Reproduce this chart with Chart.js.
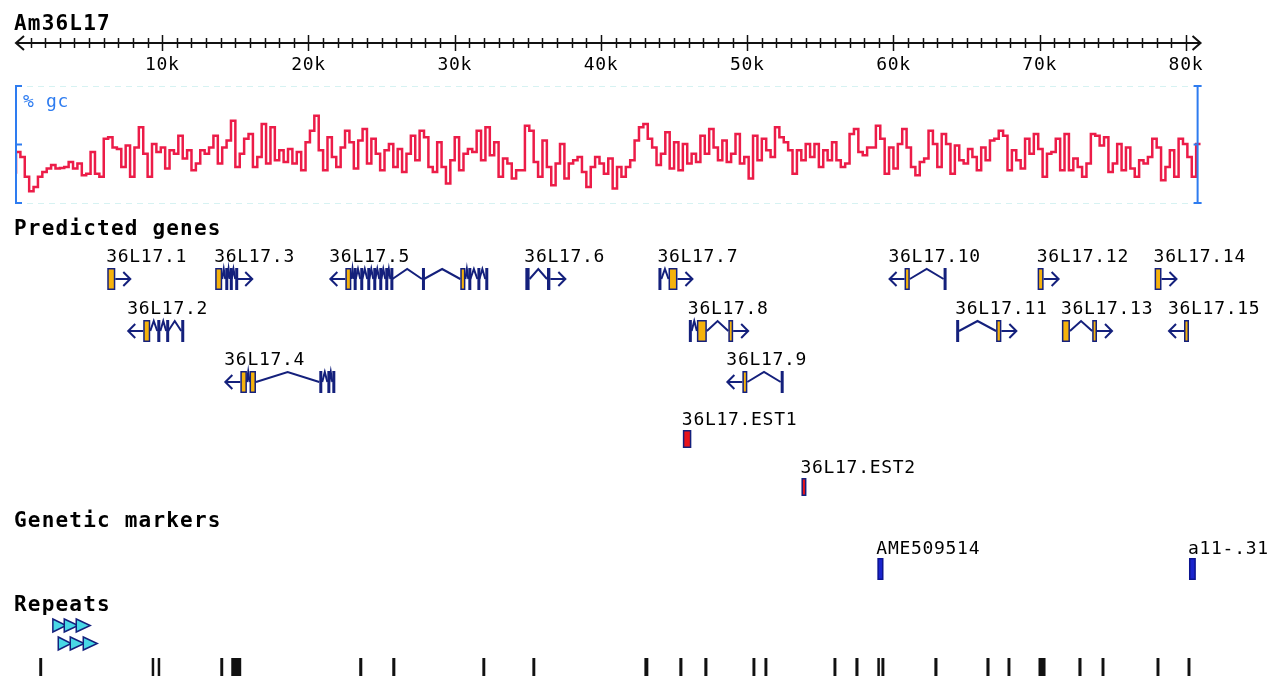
<!DOCTYPE html>
<html>
<head>
<meta charset="utf-8">
<script src="https://cdn.jsdelivr.net/npm/chart.js@4.4.1/dist/chart.umd.min.js"></script>
<style>
  html, body { margin: 0; padding: 0; background: #fff; }
  canvas { display: block; }
</style>
</head>
<body>
<canvas id="browser" width="1272" height="676"></canvas>
<script>
// ---- data (bp coordinates) ----
const seqName = 'Am36L17';
const seqLength = 80800;
const rulerEnd = 81000;
const rulerTicks = [10000, 20000, 30000, 40000, 50000, 60000, 70000, 80000];
const rulerLabels = ['10k', '20k', '30k', '40k', '50k', '60k', '70k', '80k'];

// % gc in 300 bp windows
const gcWindow = 300;
const gcValues = [
  30, 37.4, 35.7, 29, 24, 25.5, 29, 30.6, 31.8, 33, 31.8, 32, 32.3, 34, 31.8, 33.5, 29.5, 30, 37.4, 30,
  29, 42, 42.5, 39, 38.5, 32.3, 39.7, 29, 39, 45.9, 36.8, 29, 40.2, 37.4, 39, 31.8, 38, 36.8, 43, 35.2,
  38, 31.2, 33.5, 38, 36.8, 39, 43, 33.5, 39, 41.4, 48.1, 32.3, 36.8, 42, 43.6, 32.3, 35.7, 47, 33.5, 45.9,
  34.6, 38, 34, 38.5, 33.5, 37.4, 31.2, 40.8, 44.7, 49.8, 38, 31.2, 42.5, 35.7, 32.3, 39, 44.7, 40.8, 31.8, 41.4,
  45.3, 33.5, 42, 36.8, 31.2, 38, 40.2, 32.3, 38.5, 30.6, 36.8, 43,
  34.6, 44.7, 42.5, 32.3, 30.6, 40.8, 32.3, 26.7, 34.6, 42.5, 31.2, 36.8, 38.5, 37.4, 44.7, 34.6, 45.9, 36.3, 40.8, 29,
  35.2, 33.5, 28.4, 31.2, 31.2, 46.4, 44.7, 34, 29, 41.4, 32.3, 26.1, 33.5, 40.2, 28.4, 33.5, 34.6, 35.7, 30.6, 25.5,
  32.3, 35.7, 33.5, 30, 35.2, 25, 32.3, 29, 32.3, 34.6, 41.4, 45.9, 47, 42, 39, 33, 36.8, 44.2, 31.8, 40.8,
  31.2, 40.2, 33.5, 36.8, 34, 43, 36.8, 45.3, 39, 34.6, 41.4, 34, 36.8, 43.6, 33.5, 35.7, 28.4, 43, 34.6, 42,
  38, 35.7, 45.9, 42.5, 40.8, 38, 30, 38, 34.6, 40.2, 35.7,
  40.2, 32.3, 38, 34.6, 40.8, 34.6, 32.3, 33.5, 43.6, 45.3, 37.4, 36.3, 39, 39, 46.4, 42, 30, 39, 31.8, 40.2,
  45.3, 39, 32.3, 29.5, 34, 35.2, 44.7, 40.2, 32.3, 43.6, 40.2, 30, 39.7, 34.6, 33.5, 38.5, 35.7, 31.2, 39, 34.6,
  41.4, 42, 44.7, 43, 31.2, 38, 34.6, 31.8, 42, 36.8, 43.6, 38.5, 29, 36.8, 37.4, 42, 31.2, 43.6, 31.2, 35.2,
  32.3, 29, 33.5, 43.6, 43, 39.7, 42.5, 30.6, 33.5, 40.2, 31.2, 39, 31.8, 29, 34.6, 33.5, 35.7, 42, 39, 27.8,
  32.3, 38, 29, 42, 40.2, 35.7, 29, 40.2
];
const gcMinValue = 20;
const gcMaxValue = 60;

// predicted genes
const geneNames = ['36L17.1', '36L17.2', '36L17.3', '36L17.4', '36L17.5', '36L17.6', '36L17.7', '36L17.8',
  '36L17.9', '36L17.10', '36L17.11', '36L17.12', '36L17.13', '36L17.14', '36L17.15'];
const geneStrands = [1, -1, 1, -1, -1, 1, 1, 1, -1, -1, 1, 1, 1, 1, -1];
const geneRows = [0, 1, 0, 2, 0, 0, 0, 1, 2, 0, 1, 0, 1, 0, 1];
const geneExons = [
  [[6240, 6790]],
  [[8700, 9180], [9660, 9870], [10270, 10410], [11300, 11440]],
  [[13620, 14100], [14310, 14450], [14620, 14750], [14990, 15130]],
  [[15340, 15790], [15970, 16410], [20740, 20940], [21290, 21420], [21630, 21770]],
  [[22520, 22930], [23090, 23230], [23540, 23680], [24020, 24160], [24430, 24570], [24840, 24980],
   [25250, 25390], [25600, 25740], [27760, 27900], [30380, 30730], [30930, 31070], [31550, 31690], [32090, 32230]],
  [[34830, 35120], [36310, 36540]],
  [[43930, 44130], [44620, 45230]],
  [[46010, 46200], [46560, 47240], [48710, 49040]],
  [[49670, 50010], [52290, 52410]],
  [[60760, 61120], [63430, 63600]],
  [[64290, 64480], [67020, 67380]],
  [[69860, 70270]],
  [[71520, 72070], [73590, 73920]],
  [[77860, 78330]],
  [[79870, 80210]]
];

// ESTs
const estNames = ['36L17.EST1', '36L17.EST2'];
const estStarts = [45600, 53710];
const estEnds = [46180, 54050];

// genetic markers
const markerNames = ['AME509514', 'a11-.31'];
const markerStarts = [58900, 80210];
const markerEnds = [59320, 80680];

// repeats
const repeatArrowRows = [0, 0, 0, 1, 1, 1];
const repeatArrowStarts = [2520, 3300, 4120, 2890, 3710, 4600];
const repeatArrowEnds = [3430, 4255, 5075, 3775, 4665, 5555];
const repeatStarts = [1590, 9280, 9690, 13970, 14720, 23470, 25730, 31890, 35310, 42970, 45360, 47070, 50360,
  51180, 55900, 57400, 58900, 59180, 62800, 66360, 67800, 69920, 72650, 74230, 77990, 80110];
const repeatEnds = [1790, 9450, 9860, 14170, 15400, 23680, 25940, 32090, 35510, 43240, 45570, 47280, 50560,
  51380, 56100, 57610, 59040, 59380, 63010, 66570, 68000, 70400, 72860, 74430, 78190, 80310];

// ---- look ----
const NAVY = '#14207c';
const YELLOW = '#f5b20c';
const GC_RED = '#ec1c48';
const GC_BLUE = '#2e7cf0';
const EST_RED = '#e8141c';
const MARKER_BLUE = '#1a24cc';
const CYAN = '#48d8e6';
const HEAD_FONT = "bold 21px 'DejaVu Sans Mono'";
const LABEL_FONT = "18px 'DejaVu Sans Mono'";

const gcTopPx = 86, gcBottomPx = 203, canvasH = 676;
const gcPerPx = (gcMaxValue - gcMinValue) / (gcBottomPx - gcTopPx);
const gcAxisMax = gcMaxValue + gcTopPx * gcPerPx;
const gcAxisMin = gcAxisMax - canvasH * gcPerPx;

const geneRowTop = [268, 320, 371];
const geneH = 22;
const estTop = [430, 478];
const estH = 18;
const markerTop = 558, markerH = 22;
const arrowRowTop = [619, 637], arrowH = 13;
const repeatTop = 658;

function heading(ctx, text, x, y) {
  ctx.font = HEAD_FONT;
  ctx.letterSpacing = '1.2px';
  ctx.fillStyle = '#000';
  ctx.fillText(text, x, y);
  ctx.letterSpacing = '0px';
}

function label(ctx, text, x, y, color) {
  ctx.font = LABEL_FONT;
  ctx.letterSpacing = '0.7px';
  ctx.fillStyle = color || '#000';
  ctx.fillText(text, x, y);
  ctx.letterSpacing = '0px';
}

function box(ctx, l, r, top, h, fill, edge) {
  const w = Math.max(r - l, 3);
  ctx.fillStyle = edge;
  ctx.fillRect(l, top, w, h);
  if (w > 4.5) {
    ctx.fillStyle = fill;
    ctx.fillRect(l + 1.5, top + 1.5, w - 3, h - 3);
  }
}

function drawGene(ctx, xs, name, strand, exons, top) {
  const mid = top + geneH / 2;
  const px = exons.map(([s, e]) => [xs.getPixelForValue(s), xs.getPixelForValue(e)]);
  ctx.strokeStyle = NAVY;
  ctx.lineWidth = 2;
  for (let i = 0; i < px.length - 1; i++) {
    const a = px[i][1], b = px[i + 1][0];
    ctx.beginPath();
    ctx.moveTo(a, mid);
    ctx.lineTo((a + b) / 2, top + 1);
    ctx.lineTo(b, mid);
    ctx.stroke();
  }
  px.forEach(([l, r]) => box(ctx, l, r, top, geneH, YELLOW, NAVY));
  const arrowLen = 15;
  const base = strand > 0 ? px[px.length - 1][1] : px[0][0];
  const tip = base + strand * arrowLen;
  ctx.beginPath();
  ctx.moveTo(base, mid);
  ctx.lineTo(tip, mid);
  ctx.moveTo(tip - strand * 7, mid - 7);
  ctx.lineTo(tip, mid);
  ctx.lineTo(tip - strand * 7, mid + 7);
  ctx.stroke();
  const left = strand > 0 ? px[0][0] : tip;
  label(ctx, name, left - 1, top - 6);
}

const browserGlyphs = {
  id: 'browserGlyphs',
  beforeDraw(chart) {
    const ctx = chart.ctx;
    ctx.save();
    ctx.fillStyle = '#fff';
    ctx.fillRect(0, 0, chart.width, chart.height);
    // faint gc grid
    const xs = chart.scales.x, ys = chart.scales.y;
    ctx.strokeStyle = '#d6f2f2';
    ctx.lineWidth = 1;
    ctx.setLineDash([6, 5]);
    [gcMaxValue, gcMinValue].forEach(v => {
      const y = Math.round(ys.getPixelForValue(v)) + 0.5;
      ctx.beginPath();
      ctx.moveTo(xs.getPixelForValue(0), y);
      ctx.lineTo(xs.getPixelForValue(seqLength), y);
      ctx.stroke();
    });
    ctx.restore();
  },
  afterDatasetsDraw(chart) {
    const ctx = chart.ctx;
    const xs = chart.scales.x, ys = chart.scales.y;
    ctx.save();
    ctx.textBaseline = 'alphabetic';

    // ruler
    heading(ctx, seqName, 14, 30);
    const ry = 43;
    const x0 = xs.getPixelForValue(0), x1 = xs.getPixelForValue(rulerEnd);
    ctx.strokeStyle = '#111';
    ctx.lineWidth = 2;
    ctx.beginPath();
    ctx.moveTo(x0, ry); ctx.lineTo(x1, ry);
    ctx.moveTo(x0 + 8, ry - 7); ctx.lineTo(x0, ry); ctx.lineTo(x0 + 8, ry + 7);
    ctx.moveTo(x1 - 8, ry - 7); ctx.lineTo(x1, ry); ctx.lineTo(x1 - 8, ry + 7);
    ctx.stroke();
    ctx.lineWidth = 1.5;
    for (let bp = 1000; bp < rulerEnd - 300; bp += 1000) {
      const tx = Math.round(xs.getPixelForValue(bp)) + 0.5;
      const major = rulerTicks.includes(bp);
      ctx.beginPath();
      ctx.moveTo(tx, ry - (major ? 8 : 5));
      ctx.lineTo(tx, ry + (major ? 8 : 5));
      ctx.stroke();
    }
    ctx.textAlign = 'center';
    rulerTicks.forEach((bp, i) => label(ctx, rulerLabels[i], xs.getPixelForValue(bp), 70));
    ctx.textAlign = 'left';

    // gc brackets
    const yTop = ys.getPixelForValue(gcMaxValue);
    const yMid = ys.getPixelForValue((gcMaxValue + gcMinValue) / 2);
    const yBot = ys.getPixelForValue(gcMinValue);
    const bl = xs.getPixelForValue(0), br = xs.getPixelForValue(seqLength);
    ctx.strokeStyle = GC_BLUE;
    ctx.lineWidth = 2;
    ctx.beginPath();
    ctx.moveTo(bl + 6, yTop); ctx.lineTo(bl, yTop); ctx.lineTo(bl, yBot); ctx.lineTo(bl + 6, yBot);
    ctx.moveTo(bl, yMid); ctx.lineTo(bl + 6, yMid);
    ctx.moveTo(br - 4, yTop); ctx.lineTo(br + 4, yTop);
    ctx.moveTo(br, yTop); ctx.lineTo(br, yBot);
    ctx.moveTo(br - 4, yBot); ctx.lineTo(br + 4, yBot);
    ctx.moveTo(br - 4, yMid); ctx.lineTo(br, yMid);
    ctx.stroke();
    label(ctx, '% gc', 23, 107, GC_BLUE);

    // predicted genes
    heading(ctx, 'Predicted genes', 14, 235);
    geneNames.forEach((name, i) =>
      drawGene(ctx, xs, name, geneStrands[i], geneExons[i], geneRowTop[geneRows[i]]));

    estNames.forEach((name, i) => {
      const l = xs.getPixelForValue(estStarts[i]), r = xs.getPixelForValue(estEnds[i]);
      box(ctx, l, r, estTop[i], estH, EST_RED, NAVY);
      label(ctx, name, l - 1, estTop[i] - 5);
    });

    // genetic markers
    heading(ctx, 'Genetic markers', 14, 527);
    markerNames.forEach((name, i) => {
      const l = xs.getPixelForValue(markerStarts[i]), r = xs.getPixelForValue(markerEnds[i]);
      box(ctx, l, r, markerTop, markerH, MARKER_BLUE, '#0c1490');
      label(ctx, name, l - 1, markerTop - 4);
    });

    // repeats
    heading(ctx, 'Repeats', 14, 611);
    ctx.lineWidth = 1.5;
    ctx.strokeStyle = NAVY;
    repeatArrowStarts.forEach((s, i) => {
      const l = xs.getPixelForValue(s), r = xs.getPixelForValue(repeatArrowEnds[i]);
      const t = arrowRowTop[repeatArrowRows[i]];
      ctx.beginPath();
      ctx.moveTo(l, t); ctx.lineTo(r, t + arrowH / 2); ctx.lineTo(l, t + arrowH); ctx.closePath();
      ctx.fillStyle = CYAN;
      ctx.fill();
      ctx.stroke();
    });
    ctx.fillStyle = '#111';
    repeatStarts.forEach((s, i) => {
      const l = xs.getPixelForValue(s), r = xs.getPixelForValue(repeatEnds[i]);
      ctx.fillRect(l, repeatTop, Math.max(r - l, 2.5), chart.height - repeatTop);
    });
    ctx.restore();
  }
};

new Chart(document.getElementById('browser'), {
  type: 'line',
  data: {
    datasets: [{
      label: '% gc',
      data: gcValues.map((v, i) => ({ x: i * gcWindow, y: v })),
      borderColor: GC_RED,
      borderWidth: 2.5,
      stepped: 'after',
      pointRadius: 0,
      fill: false
    }]
  },
  options: {
    responsive: false,
    animation: false,
    devicePixelRatio: 1,
    layout: { padding: { left: 16, right: 70, top: 0, bottom: 0 } },
    scales: {
      x: { type: 'linear', min: 0, max: 81100, display: false },
      y: { type: 'linear', min: gcAxisMin, max: gcAxisMax, display: false }
    },
    plugins: {
      legend: { display: false },
      tooltip: { enabled: false }
    }
  },
  plugins: [browserGlyphs]
});
</script>
</body>
</html>
